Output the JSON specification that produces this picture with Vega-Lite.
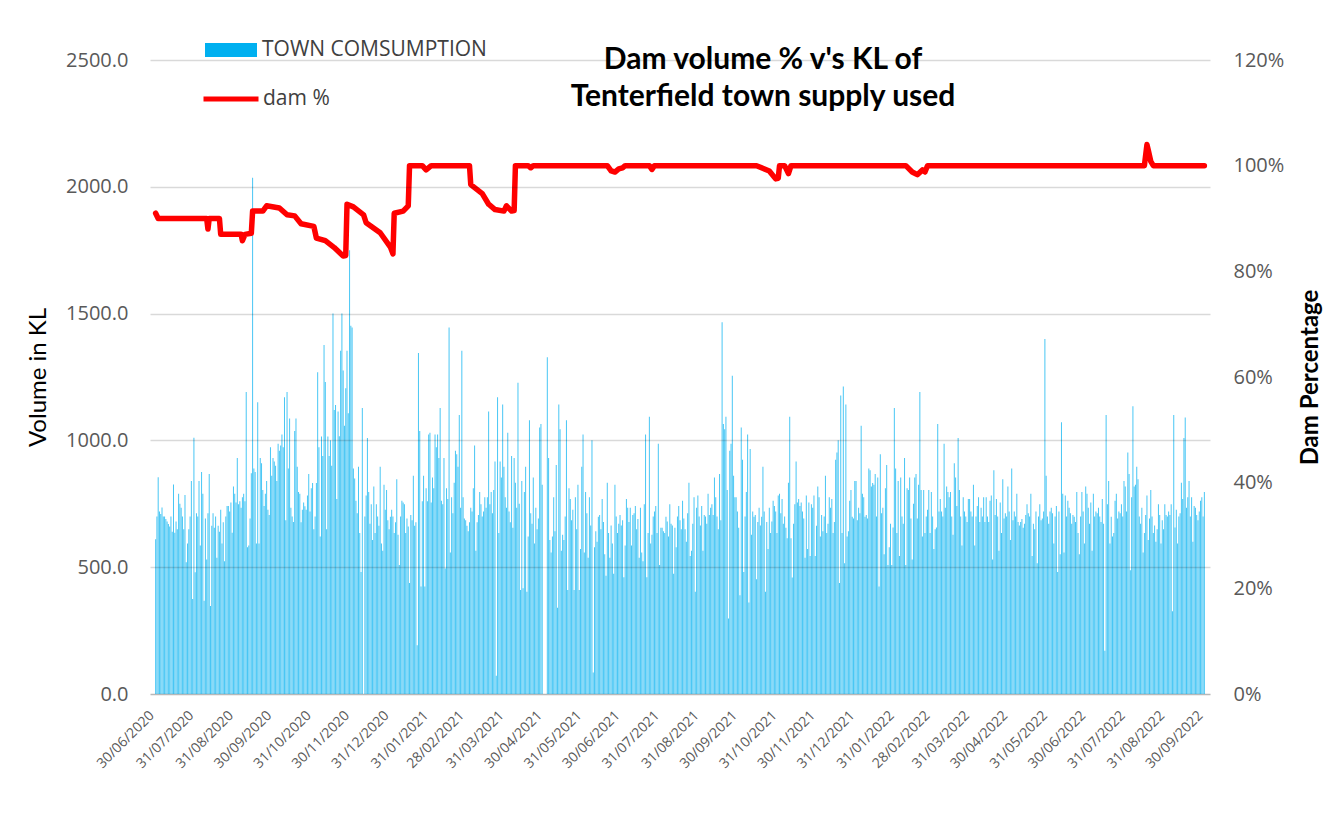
{
"$schema":"https://vega.github.io/schema/vega-lite/v6.json",
"width":1060,"height":634,
"autosize":{"type":"none"},
"padding":{"left":150,"top":60,"right":125,"bottom":146},
"background":"white",
"config":{"view":{"stroke":null},"font":"Open Sans","axisX":{"labelOverlap":false,"tickCount":60}},
"title":{"text":["Dam volume % v's KL of","Tenterfield town supply used"],"font":"Lato","fontSize":30,"fontWeight":"bold","color":"#000000","anchor":"middle","frame":"group","dx":83,"dy":92,"offset":4,"baseline":"top","lineHeight":37},
"datasets":{
"use":[
{"d":"2020-06-30","v":610},
{"d":"2020-07-01","v":700},{"d":"2020-07-02","v":855},{"d":"2020-07-03","v":720},{"d":"2020-07-04","v":710},{"d":"2020-07-05","v":735},{"d":"2020-07-06","v":700},{"d":"2020-07-07","v":700},{"d":"2020-07-08","v":690},{"d":"2020-07-09","v":680},{"d":"2020-07-10","v":670},{"d":"2020-07-11","v":660},{"d":"2020-07-12","v":700},{"d":"2020-07-13","v":640},{"d":"2020-07-14","v":826},{"d":"2020-07-15","v":636},{"d":"2020-07-16","v":680},{"d":"2020-07-17","v":650},{"d":"2020-07-18","v":790},{"d":"2020-07-19","v":750},{"d":"2020-07-20","v":734},{"d":"2020-07-21","v":700},{"d":"2020-07-22","v":650},{"d":"2020-07-23","v":785},{"d":"2020-07-24","v":520},{"d":"2020-07-25","v":593},{"d":"2020-07-26","v":650},{"d":"2020-07-27","v":700},{"d":"2020-07-28","v":840},{"d":"2020-07-29","v":375},{"d":"2020-07-30","v":1010},{"d":"2020-07-31","v":480},
{"d":"2020-08-01","v":713},{"d":"2020-08-02","v":700},{"d":"2020-08-03","v":840},{"d":"2020-08-04","v":586},{"d":"2020-08-05","v":875},{"d":"2020-08-06","v":790},{"d":"2020-08-07","v":368},{"d":"2020-08-08","v":692},{"d":"2020-08-09","v":530},{"d":"2020-08-10","v":713},{"d":"2020-08-11","v":868},{"d":"2020-08-12","v":347},{"d":"2020-08-13","v":663},{"d":"2020-08-14","v":713},{"d":"2020-08-15","v":656},{"d":"2020-08-16","v":700},{"d":"2020-08-17","v":537},{"d":"2020-08-18","v":663},{"d":"2020-08-19","v":640},{"d":"2020-08-20","v":727},{"d":"2020-08-21","v":593},{"d":"2020-08-22","v":677},{"d":"2020-08-23","v":523},{"d":"2020-08-24","v":700},{"d":"2020-08-25","v":741},{"d":"2020-08-26","v":741},{"d":"2020-08-27","v":720},{"d":"2020-08-28","v":755},{"d":"2020-08-29","v":636},{"d":"2020-08-30","v":818},{"d":"2020-08-31","v":790},
{"d":"2020-09-01","v":755},{"d":"2020-09-02","v":931},{"d":"2020-09-03","v":748},{"d":"2020-09-04","v":760},{"d":"2020-09-05","v":734},{"d":"2020-09-06","v":776},{"d":"2020-09-07","v":790},{"d":"2020-09-08","v":760},{"d":"2020-09-09","v":1191},{"d":"2020-09-10","v":579},{"d":"2020-09-11","v":586},{"d":"2020-09-12","v":692},{"d":"2020-09-13","v":870},{"d":"2020-09-14","v":2036},{"d":"2020-09-15","v":889},{"d":"2020-09-16","v":875},{"d":"2020-09-17","v":593},{"d":"2020-09-18","v":1150},{"d":"2020-09-19","v":593},{"d":"2020-09-20","v":931},{"d":"2020-09-21","v":910},{"d":"2020-09-22","v":804},{"d":"2020-09-23","v":741},{"d":"2020-09-24","v":790},{"d":"2020-09-25","v":840},{"d":"2020-09-26","v":727},{"d":"2020-09-27","v":706},{"d":"2020-09-28","v":973},{"d":"2020-09-29","v":861},{"d":"2020-09-30","v":931},
{"d":"2020-10-01","v":917},{"d":"2020-10-02","v":900},{"d":"2020-10-03","v":840},{"d":"2020-10-04","v":987},{"d":"2020-10-05","v":959},{"d":"2020-10-06","v":980},{"d":"2020-10-07","v":1023},{"d":"2020-10-08","v":973},{"d":"2020-10-09","v":1170},{"d":"2020-10-10","v":685},{"d":"2020-10-11","v":1191},{"d":"2020-10-12","v":889},{"d":"2020-10-13","v":1086},{"d":"2020-10-14","v":734},{"d":"2020-10-15","v":700},{"d":"2020-10-16","v":678},{"d":"2020-10-17","v":1037},{"d":"2020-10-18","v":1086},{"d":"2020-10-19","v":896},{"d":"2020-10-20","v":797},{"d":"2020-10-21","v":790},{"d":"2020-10-22","v":677},{"d":"2020-10-23","v":727},{"d":"2020-10-24","v":755},{"d":"2020-10-25","v":740},{"d":"2020-10-26","v":727},{"d":"2020-10-27","v":783},{"d":"2020-10-28","v":868},{"d":"2020-10-29","v":720},{"d":"2020-10-30","v":811},{"d":"2020-10-31","v":832},
{"d":"2020-11-01","v":650},{"d":"2020-11-02","v":700},{"d":"2020-11-03","v":832},{"d":"2020-11-04","v":1269},{"d":"2020-11-05","v":973},{"d":"2020-11-06","v":621},{"d":"2020-11-07","v":1015},{"d":"2020-11-08","v":938},{"d":"2020-11-09","v":1376},{"d":"2020-11-10","v":1230},{"d":"2020-11-11","v":650},{"d":"2020-11-12","v":1015},{"d":"2020-11-13","v":938},{"d":"2020-11-14","v":1001},{"d":"2020-11-15","v":900},{"d":"2020-11-16","v":1500},{"d":"2020-11-17","v":1120},{"d":"2020-11-18","v":1140},{"d":"2020-11-19","v":769},{"d":"2020-11-20","v":1114},{"d":"2020-11-21","v":1016},{"d":"2020-11-22","v":1354},{"d":"2020-11-23","v":1500},{"d":"2020-11-24","v":1276},{"d":"2020-11-25","v":1058},{"d":"2020-11-26","v":1206},{"d":"2020-11-27","v":1354},{"d":"2020-11-28","v":1107},{"d":"2020-11-29","v":1750},{"d":"2020-11-30","v":1452},
{"d":"2020-12-01","v":1445},{"d":"2020-12-02","v":889},{"d":"2020-12-03","v":850},{"d":"2020-12-04","v":762},{"d":"2020-12-05","v":713},{"d":"2020-12-06","v":896},{"d":"2020-12-07","v":635},{"d":"2020-12-08","v":481},{"d":"2020-12-09","v":1128},{"d":"2020-12-10","v":0},{"d":"2020-12-11","v":700},{"d":"2020-12-12","v":783},{"d":"2020-12-13","v":1009},{"d":"2020-12-14","v":797},{"d":"2020-12-15","v":671},{"d":"2020-12-16","v":748},{"d":"2020-12-17","v":607},{"d":"2020-12-18","v":818},{"d":"2020-12-19","v":635},{"d":"2020-12-20","v":748},{"d":"2020-12-21","v":700},{"d":"2020-12-22","v":663},{"d":"2020-12-23","v":896},{"d":"2020-12-24","v":593},{"d":"2020-12-25","v":565},{"d":"2020-12-26","v":825},{"d":"2020-12-27","v":727},{"d":"2020-12-28","v":804},{"d":"2020-12-29","v":685},{"d":"2020-12-30","v":650},{"d":"2020-12-31","v":699},
{"d":"2021-01-01","v":727},{"d":"2021-01-02","v":700},{"d":"2021-01-03","v":635},{"d":"2021-01-04","v":677},{"d":"2021-01-05","v":847},{"d":"2021-01-06","v":628},{"d":"2021-01-07","v":509},{"d":"2021-01-08","v":700},{"d":"2021-01-09","v":762},{"d":"2021-01-10","v":755},{"d":"2021-01-11","v":748},{"d":"2021-01-12","v":635},{"d":"2021-01-13","v":692},{"d":"2021-01-14","v":660},{"d":"2021-01-15","v":438},{"d":"2021-01-16","v":706},{"d":"2021-01-17","v":685},{"d":"2021-01-18","v":861},{"d":"2021-01-19","v":663},{"d":"2021-01-20","v":677},{"d":"2021-01-21","v":192},{"d":"2021-01-22","v":1345},{"d":"2021-01-23","v":1037},{"d":"2021-01-24","v":424},{"d":"2021-01-25","v":760},{"d":"2021-01-26","v":861},{"d":"2021-01-27","v":424},{"d":"2021-01-28","v":811},{"d":"2021-01-29","v":760},{"d":"2021-01-30","v":1023},{"d":"2021-01-31","v":1030},
{"d":"2021-02-01","v":755},{"d":"2021-02-02","v":854},{"d":"2021-02-03","v":811},{"d":"2021-02-04","v":1023},{"d":"2021-02-05","v":973},{"d":"2021-02-06","v":1023},{"d":"2021-02-07","v":931},{"d":"2021-02-08","v":1128},{"d":"2021-02-09","v":762},{"d":"2021-02-10","v":748},{"d":"2021-02-11","v":931},{"d":"2021-02-12","v":495},{"d":"2021-02-13","v":811},{"d":"2021-02-14","v":769},{"d":"2021-02-15","v":1445},{"d":"2021-02-16","v":558},{"d":"2021-02-17","v":776},{"d":"2021-02-18","v":713},{"d":"2021-02-19","v":833},{"d":"2021-02-20","v":959},{"d":"2021-02-21","v":945},{"d":"2021-02-22","v":896},{"d":"2021-02-23","v":1100},{"d":"2021-02-24","v":734},{"d":"2021-02-25","v":1354},{"d":"2021-02-26","v":776},{"d":"2021-02-27","v":692},{"d":"2021-02-28","v":685},
{"d":"2021-03-01","v":663},{"d":"2021-03-02","v":642},{"d":"2021-03-03","v":677},{"d":"2021-03-04","v":734},{"d":"2021-03-05","v":720},{"d":"2021-03-06","v":811},{"d":"2021-03-07","v":980},{"d":"2021-03-08","v":565},{"d":"2021-03-09","v":677},{"d":"2021-03-10","v":706},{"d":"2021-03-11","v":797},{"d":"2021-03-12","v":748},{"d":"2021-03-13","v":700},{"d":"2021-03-14","v":720},{"d":"2021-03-15","v":776},{"d":"2021-03-16","v":734},{"d":"2021-03-17","v":776},{"d":"2021-03-18","v":1114},{"d":"2021-03-19","v":748},{"d":"2021-03-20","v":797},{"d":"2021-03-21","v":713},{"d":"2021-03-22","v":804},{"d":"2021-03-23","v":917},{"d":"2021-03-24","v":72},{"d":"2021-03-25","v":1170},{"d":"2021-03-26","v":635},{"d":"2021-03-27","v":917},{"d":"2021-03-28","v":854},{"d":"2021-03-29","v":1142},{"d":"2021-03-30","v":896},{"d":"2021-03-31","v":776},
{"d":"2021-04-01","v":734},{"d":"2021-04-02","v":1030},{"d":"2021-04-03","v":720},{"d":"2021-04-04","v":677},{"d":"2021-04-05","v":938},{"d":"2021-04-06","v":656},{"d":"2021-04-07","v":931},{"d":"2021-04-08","v":833},{"d":"2021-04-09","v":734},{"d":"2021-04-10","v":1227},{"d":"2021-04-11","v":750},{"d":"2021-04-12","v":410},{"d":"2021-04-13","v":840},{"d":"2021-04-14","v":417},{"d":"2021-04-15","v":797},{"d":"2021-04-16","v":896},{"d":"2021-04-17","v":403},{"d":"2021-04-18","v":621},{"d":"2021-04-19","v":1079},{"d":"2021-04-20","v":713},{"d":"2021-04-21","v":671},{"d":"2021-04-22","v":854},{"d":"2021-04-23","v":593},{"d":"2021-04-24","v":734},{"d":"2021-04-25","v":650},{"d":"2021-04-26","v":692},{"d":"2021-04-27","v":1051},{"d":"2021-04-28","v":1065},{"d":"2021-04-29","v":825},{"d":"2021-04-30","v":0},
{"d":"2021-05-01","v":0},{"d":"2021-05-02","v":0},{"d":"2021-05-03","v":1328},{"d":"2021-05-04","v":931},{"d":"2021-05-05","v":607},{"d":"2021-05-06","v":558},{"d":"2021-05-07","v":621},{"d":"2021-05-08","v":776},{"d":"2021-05-09","v":642},{"d":"2021-05-10","v":903},{"d":"2021-05-11","v":340},{"d":"2021-05-12","v":1142},{"d":"2021-05-13","v":1044},{"d":"2021-05-14","v":565},{"d":"2021-05-15","v":628},{"d":"2021-05-16","v":607},{"d":"2021-05-17","v":700},{"d":"2021-05-18","v":1079},{"d":"2021-05-19","v":410},{"d":"2021-05-20","v":811},{"d":"2021-05-21","v":769},{"d":"2021-05-22","v":685},{"d":"2021-05-23","v":727},{"d":"2021-05-24","v":410},{"d":"2021-05-25","v":776},{"d":"2021-05-26","v":650},{"d":"2021-05-27","v":825},{"d":"2021-05-28","v":410},{"d":"2021-05-29","v":572},{"d":"2021-05-30","v":896},{"d":"2021-05-31","v":1023},
{"d":"2021-06-01","v":558},{"d":"2021-06-02","v":797},{"d":"2021-06-03","v":713},{"d":"2021-06-04","v":537},{"d":"2021-06-05","v":776},{"d":"2021-06-06","v":664},{"d":"2021-06-07","v":1001},{"d":"2021-06-08","v":85},{"d":"2021-06-09","v":579},{"d":"2021-06-10","v":642},{"d":"2021-06-11","v":600},{"d":"2021-06-12","v":699},{"d":"2021-06-13","v":706},{"d":"2021-06-14","v":650},{"d":"2021-06-15","v":769},{"d":"2021-06-16","v":678},{"d":"2021-06-17","v":551},{"d":"2021-06-18","v":466},{"d":"2021-06-19","v":833},{"d":"2021-06-20","v":635},{"d":"2021-06-21","v":537},{"d":"2021-06-22","v":664},{"d":"2021-06-23","v":593},{"d":"2021-06-24","v":474},{"d":"2021-06-25","v":825},{"d":"2021-06-26","v":700},{"d":"2021-06-27","v":635},{"d":"2021-06-28","v":671},{"d":"2021-06-29","v":706},{"d":"2021-06-30","v":664},
{"d":"2021-07-01","v":685},{"d":"2021-07-02","v":460},{"d":"2021-07-03","v":586},{"d":"2021-07-04","v":769},{"d":"2021-07-05","v":734},{"d":"2021-07-06","v":678},{"d":"2021-07-07","v":734},{"d":"2021-07-08","v":586},{"d":"2021-07-09","v":706},{"d":"2021-07-10","v":713},{"d":"2021-07-11","v":741},{"d":"2021-07-12","v":650},{"d":"2021-07-13","v":690},{"d":"2021-07-14","v":537},{"d":"2021-07-15","v":734},{"d":"2021-07-16","v":558},{"d":"2021-07-17","v":523},{"d":"2021-07-18","v":748},{"d":"2021-07-19","v":1023},{"d":"2021-07-20","v":460},{"d":"2021-07-21","v":635},{"d":"2021-07-22","v":1093},{"d":"2021-07-23","v":593},{"d":"2021-07-24","v":628},{"d":"2021-07-25","v":700},{"d":"2021-07-26","v":720},{"d":"2021-07-27","v":741},{"d":"2021-07-28","v":635},{"d":"2021-07-29","v":987},{"d":"2021-07-30","v":509},{"d":"2021-07-31","v":656},
{"d":"2021-08-01","v":656},{"d":"2021-08-02","v":642},{"d":"2021-08-03","v":635},{"d":"2021-08-04","v":699},{"d":"2021-08-05","v":680},{"d":"2021-08-06","v":621},{"d":"2021-08-07","v":748},{"d":"2021-08-08","v":671},{"d":"2021-08-09","v":664},{"d":"2021-08-10","v":474},{"d":"2021-08-11","v":656},{"d":"2021-08-12","v":579},{"d":"2021-08-13","v":700},{"d":"2021-08-14","v":741},{"d":"2021-08-15","v":685},{"d":"2021-08-16","v":650},{"d":"2021-08-17","v":762},{"d":"2021-08-18","v":692},{"d":"2021-08-19","v":650},{"d":"2021-08-20","v":600},{"d":"2021-08-21","v":713},{"d":"2021-08-22","v":833},{"d":"2021-08-23","v":544},{"d":"2021-08-24","v":565},{"d":"2021-08-25","v":671},{"d":"2021-08-26","v":776},{"d":"2021-08-27","v":403},{"d":"2021-08-28","v":734},{"d":"2021-08-29","v":783},{"d":"2021-08-30","v":700},{"d":"2021-08-31","v":664},
{"d":"2021-09-01","v":741},{"d":"2021-09-02","v":565},{"d":"2021-09-03","v":706},{"d":"2021-09-04","v":700},{"d":"2021-09-05","v":671},{"d":"2021-09-06","v":790},{"d":"2021-09-07","v":706},{"d":"2021-09-08","v":734},{"d":"2021-09-09","v":748},{"d":"2021-09-10","v":706},{"d":"2021-09-11","v":854},{"d":"2021-09-12","v":776},{"d":"2021-09-13","v":700},{"d":"2021-09-14","v":650},{"d":"2021-09-15","v":868},{"d":"2021-09-16","v":685},{"d":"2021-09-17","v":1466},{"d":"2021-09-18","v":1065},{"d":"2021-09-19","v":1044},{"d":"2021-09-20","v":1093},{"d":"2021-09-21","v":804},{"d":"2021-09-22","v":298},{"d":"2021-09-23","v":959},{"d":"2021-09-24","v":987},{"d":"2021-09-25","v":1255},{"d":"2021-09-26","v":861},{"d":"2021-09-27","v":776},{"d":"2021-09-28","v":776},{"d":"2021-09-29","v":720},{"d":"2021-09-30","v":656},
{"d":"2021-10-01","v":389},{"d":"2021-10-02","v":1051},{"d":"2021-10-03","v":924},{"d":"2021-10-04","v":481},{"d":"2021-10-05","v":700},{"d":"2021-10-06","v":797},{"d":"2021-10-07","v":1023},{"d":"2021-10-08","v":361},{"d":"2021-10-09","v":966},{"d":"2021-10-10","v":628},{"d":"2021-10-11","v":720},{"d":"2021-10-12","v":699},{"d":"2021-10-13","v":706},{"d":"2021-10-14","v":452},{"d":"2021-10-15","v":678},{"d":"2021-10-16","v":734},{"d":"2021-10-17","v":664},{"d":"2021-10-18","v":699},{"d":"2021-10-19","v":896},{"d":"2021-10-20","v":720},{"d":"2021-10-21","v":403},{"d":"2021-10-22","v":678},{"d":"2021-10-23","v":572},{"d":"2021-10-24","v":734},{"d":"2021-10-25","v":635},{"d":"2021-10-26","v":680},{"d":"2021-10-27","v":762},{"d":"2021-10-28","v":741},{"d":"2021-10-29","v":720},{"d":"2021-10-30","v":635},{"d":"2021-10-31","v":783},
{"d":"2021-11-01","v":790},{"d":"2021-11-02","v":713},{"d":"2021-11-03","v":769},{"d":"2021-11-04","v":671},{"d":"2021-11-05","v":700},{"d":"2021-11-06","v":656},{"d":"2021-11-07","v":614},{"d":"2021-11-08","v":833},{"d":"2021-11-09","v":1093},{"d":"2021-11-10","v":614},{"d":"2021-11-11","v":459},{"d":"2021-11-12","v":671},{"d":"2021-11-13","v":748},{"d":"2021-11-14","v":917},{"d":"2021-11-15","v":755},{"d":"2021-11-16","v":769},{"d":"2021-11-17","v":741},{"d":"2021-11-18","v":755},{"d":"2021-11-19","v":720},{"d":"2021-11-20","v":692},{"d":"2021-11-21","v":537},{"d":"2021-11-22","v":783},{"d":"2021-11-23","v":572},{"d":"2021-11-24","v":755},{"d":"2021-11-25","v":544},{"d":"2021-11-26","v":748},{"d":"2021-11-27","v":734},{"d":"2021-11-28","v":783},{"d":"2021-11-29","v":544},{"d":"2021-11-30","v":663},
{"d":"2021-12-01","v":818},{"d":"2021-12-02","v":776},{"d":"2021-12-03","v":621},{"d":"2021-12-04","v":706},{"d":"2021-12-05","v":642},{"d":"2021-12-06","v":700},{"d":"2021-12-07","v":861},{"d":"2021-12-08","v":635},{"d":"2021-12-09","v":671},{"d":"2021-12-10","v":776},{"d":"2021-12-11","v":734},{"d":"2021-12-12","v":769},{"d":"2021-12-13","v":635},{"d":"2021-12-14","v":678},{"d":"2021-12-15","v":924},{"d":"2021-12-16","v":952},{"d":"2021-12-17","v":1001},{"d":"2021-12-18","v":438},{"d":"2021-12-19","v":1177},{"d":"2021-12-20","v":635},{"d":"2021-12-21","v":1213},{"d":"2021-12-22","v":516},{"d":"2021-12-23","v":1142},{"d":"2021-12-24","v":621},{"d":"2021-12-25","v":642},{"d":"2021-12-26","v":762},{"d":"2021-12-27","v":804},{"d":"2021-12-28","v":699},{"d":"2021-12-29","v":692},{"d":"2021-12-30","v":840},{"d":"2021-12-31","v":840},
{"d":"2022-01-01","v":685},{"d":"2022-01-02","v":734},{"d":"2022-01-03","v":713},{"d":"2022-01-04","v":1058},{"d":"2022-01-05","v":790},{"d":"2022-01-06","v":776},{"d":"2022-01-07","v":699},{"d":"2022-01-08","v":706},{"d":"2022-01-09","v":692},{"d":"2022-01-10","v":889},{"d":"2022-01-11","v":882},{"d":"2022-01-12","v":818},{"d":"2022-01-13","v":832},{"d":"2022-01-14","v":825},{"d":"2022-01-15","v":868},{"d":"2022-01-16","v":700},{"d":"2022-01-17","v":854},{"d":"2022-01-18","v":424},{"d":"2022-01-19","v":945},{"d":"2022-01-20","v":713},{"d":"2022-01-21","v":734},{"d":"2022-01-22","v":551},{"d":"2022-01-23","v":811},{"d":"2022-01-24","v":903},{"d":"2022-01-25","v":509},{"d":"2022-01-26","v":579},{"d":"2022-01-27","v":671},{"d":"2022-01-28","v":509},{"d":"2022-01-29","v":657},{"d":"2022-01-30","v":1128},{"d":"2022-01-31","v":889},
{"d":"2022-02-01","v":635},{"d":"2022-02-02","v":840},{"d":"2022-02-03","v":544},{"d":"2022-02-04","v":854},{"d":"2022-02-05","v":700},{"d":"2022-02-06","v":671},{"d":"2022-02-07","v":931},{"d":"2022-02-08","v":509},{"d":"2022-02-09","v":811},{"d":"2022-02-10","v":804},{"d":"2022-02-11","v":854},{"d":"2022-02-12","v":692},{"d":"2022-02-13","v":530},{"d":"2022-02-14","v":750},{"d":"2022-02-15","v":854},{"d":"2022-02-16","v":868},{"d":"2022-02-17","v":692},{"d":"2022-02-18","v":825},{"d":"2022-02-19","v":1191},{"d":"2022-02-20","v":804},{"d":"2022-02-21","v":621},{"d":"2022-02-22","v":804},{"d":"2022-02-23","v":635},{"d":"2022-02-24","v":700},{"d":"2022-02-25","v":727},{"d":"2022-02-26","v":804},{"d":"2022-02-27","v":635},{"d":"2022-02-28","v":797},
{"d":"2022-03-01","v":700},{"d":"2022-03-02","v":572},{"d":"2022-03-03","v":650},{"d":"2022-03-04","v":657},{"d":"2022-03-05","v":1065},{"d":"2022-03-06","v":720},{"d":"2022-03-07","v":769},{"d":"2022-03-08","v":720},{"d":"2022-03-09","v":700},{"d":"2022-03-10","v":987},{"d":"2022-03-11","v":734},{"d":"2022-03-12","v":818},{"d":"2022-03-13","v":797},{"d":"2022-03-14","v":776},{"d":"2022-03-15","v":797},{"d":"2022-03-16","v":700},{"d":"2022-03-17","v":628},{"d":"2022-03-18","v":910},{"d":"2022-03-19","v":854},{"d":"2022-03-20","v":741},{"d":"2022-03-21","v":1009},{"d":"2022-03-22","v":804},{"d":"2022-03-23","v":700},{"d":"2022-03-24","v":586},{"d":"2022-03-25","v":776},{"d":"2022-03-26","v":720},{"d":"2022-03-27","v":700},{"d":"2022-03-28","v":678},{"d":"2022-03-29","v":769},{"d":"2022-03-30","v":769},{"d":"2022-03-31","v":720},
{"d":"2022-04-01","v":700},{"d":"2022-04-02","v":825},{"d":"2022-04-03","v":586},{"d":"2022-04-04","v":700},{"d":"2022-04-05","v":741},{"d":"2022-04-06","v":776},{"d":"2022-04-07","v":678},{"d":"2022-04-08","v":734},{"d":"2022-04-09","v":700},{"d":"2022-04-10","v":776},{"d":"2022-04-11","v":678},{"d":"2022-04-12","v":776},{"d":"2022-04-13","v":700},{"d":"2022-04-14","v":678},{"d":"2022-04-15","v":762},{"d":"2022-04-16","v":783},{"d":"2022-04-17","v":530},{"d":"2022-04-18","v":882},{"d":"2022-04-19","v":706},{"d":"2022-04-20","v":769},{"d":"2022-04-21","v":700},{"d":"2022-04-22","v":565},{"d":"2022-04-23","v":755},{"d":"2022-04-24","v":635},{"d":"2022-04-25","v":847},{"d":"2022-04-26","v":692},{"d":"2022-04-27","v":713},{"d":"2022-04-28","v":700},{"d":"2022-04-29","v":818},{"d":"2022-04-30","v":720},
{"d":"2022-05-01","v":607},{"d":"2022-05-02","v":889},{"d":"2022-05-03","v":685},{"d":"2022-05-04","v":720},{"d":"2022-05-05","v":700},{"d":"2022-05-06","v":790},{"d":"2022-05-07","v":678},{"d":"2022-05-08","v":664},{"d":"2022-05-09","v":678},{"d":"2022-05-10","v":690},{"d":"2022-05-11","v":656},{"d":"2022-05-12","v":671},{"d":"2022-05-13","v":706},{"d":"2022-05-14","v":748},{"d":"2022-05-15","v":713},{"d":"2022-05-16","v":700},{"d":"2022-05-17","v":790},{"d":"2022-05-18","v":544},{"d":"2022-05-19","v":671},{"d":"2022-05-20","v":650},{"d":"2022-05-21","v":720},{"d":"2022-05-22","v":516},{"d":"2022-05-23","v":700},{"d":"2022-05-24","v":748},{"d":"2022-05-25","v":685},{"d":"2022-05-26","v":692},{"d":"2022-05-27","v":720},{"d":"2022-05-28","v":1400},{"d":"2022-05-29","v":861},{"d":"2022-05-30","v":700},{"d":"2022-05-31","v":671},
{"d":"2022-06-01","v":720},{"d":"2022-06-02","v":734},{"d":"2022-06-03","v":713},{"d":"2022-06-04","v":593},{"d":"2022-06-05","v":700},{"d":"2022-06-06","v":741},{"d":"2022-06-07","v":481},{"d":"2022-06-08","v":720},{"d":"2022-06-09","v":551},{"d":"2022-06-10","v":1072},{"d":"2022-06-11","v":790},{"d":"2022-06-12","v":558},{"d":"2022-06-13","v":783},{"d":"2022-06-14","v":700},{"d":"2022-06-15","v":762},{"d":"2022-06-16","v":734},{"d":"2022-06-17","v":713},{"d":"2022-06-18","v":671},{"d":"2022-06-19","v":706},{"d":"2022-06-20","v":699},{"d":"2022-06-21","v":678},{"d":"2022-06-22","v":797},{"d":"2022-06-23","v":635},{"d":"2022-06-24","v":551},{"d":"2022-06-25","v":700},{"d":"2022-06-26","v":797},{"d":"2022-06-27","v":720},{"d":"2022-06-28","v":593},{"d":"2022-06-29","v":818},{"d":"2022-06-30","v":790},
{"d":"2022-07-01","v":734},{"d":"2022-07-02","v":671},{"d":"2022-07-03","v":755},{"d":"2022-07-04","v":565},{"d":"2022-07-05","v":790},{"d":"2022-07-06","v":700},{"d":"2022-07-07","v":720},{"d":"2022-07-08","v":713},{"d":"2022-07-09","v":734},{"d":"2022-07-10","v":700},{"d":"2022-07-11","v":678},{"d":"2022-07-12","v":769},{"d":"2022-07-13","v":671},{"d":"2022-07-14","v":171},{"d":"2022-07-15","v":1100},{"d":"2022-07-16","v":748},{"d":"2022-07-17","v":840},{"d":"2022-07-18","v":593},{"d":"2022-07-19","v":699},{"d":"2022-07-20","v":621},{"d":"2022-07-21","v":635},{"d":"2022-07-22","v":762},{"d":"2022-07-23","v":790},{"d":"2022-07-24","v":692},{"d":"2022-07-25","v":720},{"d":"2022-07-26","v":713},{"d":"2022-07-27","v":748},{"d":"2022-07-28","v":700},{"d":"2022-07-29","v":840},{"d":"2022-07-30","v":818},{"d":"2022-07-31","v":720},
{"d":"2022-08-01","v":952},{"d":"2022-08-02","v":868},{"d":"2022-08-03","v":488},{"d":"2022-08-04","v":776},{"d":"2022-08-05","v":1135},{"d":"2022-08-06","v":818},{"d":"2022-08-07","v":825},{"d":"2022-08-08","v":896},{"d":"2022-08-09","v":847},{"d":"2022-08-10","v":700},{"d":"2022-08-11","v":671},{"d":"2022-08-12","v":734},{"d":"2022-08-13","v":558},{"d":"2022-08-14","v":635},{"d":"2022-08-15","v":706},{"d":"2022-08-16","v":783},{"d":"2022-08-17","v":607},{"d":"2022-08-18","v":692},{"d":"2022-08-19","v":804},{"d":"2022-08-20","v":700},{"d":"2022-08-21","v":635},{"d":"2022-08-22","v":664},{"d":"2022-08-23","v":600},{"d":"2022-08-24","v":650},{"d":"2022-08-25","v":748},{"d":"2022-08-26","v":706},{"d":"2022-08-27","v":593},{"d":"2022-08-28","v":685},{"d":"2022-08-29","v":650},{"d":"2022-08-30","v":748},{"d":"2022-08-31","v":706},
{"d":"2022-09-01","v":700},{"d":"2022-09-02","v":720},{"d":"2022-09-03","v":706},{"d":"2022-09-04","v":748},{"d":"2022-09-05","v":326},{"d":"2022-09-06","v":1100},{"d":"2022-09-07","v":657},{"d":"2022-09-08","v":727},{"d":"2022-09-09","v":593},{"d":"2022-09-10","v":700},{"d":"2022-09-11","v":713},{"d":"2022-09-12","v":833},{"d":"2022-09-13","v":769},{"d":"2022-09-14","v":1009},{"d":"2022-09-15","v":1090},{"d":"2022-09-16","v":734},{"d":"2022-09-17","v":776},{"d":"2022-09-18","v":840},{"d":"2022-09-19","v":700},{"d":"2022-09-20","v":776},{"d":"2022-09-21","v":600},{"d":"2022-09-22","v":741},{"d":"2022-09-23","v":734},{"d":"2022-09-24","v":706},{"d":"2022-09-25","v":685},{"d":"2022-09-26","v":720},{"d":"2022-09-27","v":762},{"d":"2022-09-28","v":776},{"d":"2022-09-29","v":700},{"d":"2022-09-30","v":797}
],
"dam":[
{"d":"2020-06-30","p":91.0},{"d":"2020-07-02","p":90.0},{"d":"2020-08-09","p":90.0},{"d":"2020-08-10","p":88.0},{"d":"2020-08-11","p":90.0},{"d":"2020-08-19","p":90.0},{"d":"2020-08-20","p":87.0},{"d":"2020-09-05","p":87.0},{"d":"2020-09-06","p":85.8},{"d":"2020-09-08","p":87.0},{"d":"2020-09-13","p":87.2},{"d":"2020-09-14","p":91.4},{"d":"2020-09-22","p":91.4},{"d":"2020-09-25","p":92.4},{"d":"2020-10-05","p":92.0},{"d":"2020-10-11","p":90.7},{"d":"2020-10-17","p":90.5},{"d":"2020-10-22","p":89.0},{"d":"2020-11-01","p":88.5},{"d":"2020-11-03","p":86.3},{"d":"2020-11-10","p":85.8},{"d":"2020-11-17","p":84.5},{"d":"2020-11-24","p":82.9},{"d":"2020-11-26","p":83.0},{"d":"2020-11-27","p":92.7},{"d":"2020-12-02","p":92.2},{"d":"2020-12-10","p":90.7},{"d":"2020-12-12","p":89.2},{"d":"2020-12-23","p":87.3},{"d":"2020-12-31","p":84.6},{"d":"2021-01-02","p":83.3},{"d":"2021-01-03","p":91.0},{"d":"2021-01-10","p":91.4},{"d":"2021-01-14","p":92.4},{"d":"2021-01-15","p":100.0},{"d":"2021-01-25","p":100.0},{"d":"2021-01-28","p":99.2},{"d":"2021-02-01","p":100.0},{"d":"2021-03-03","p":100.0},{"d":"2021-03-04","p":96.4},{"d":"2021-03-13","p":94.7},{"d":"2021-03-18","p":92.7},{"d":"2021-03-23","p":91.7},{"d":"2021-03-30","p":91.4},{"d":"2021-04-01","p":92.4},{"d":"2021-04-05","p":91.4},{"d":"2021-04-07","p":91.5},{"d":"2021-04-08","p":100.0},{"d":"2021-04-18","p":100.0},{"d":"2021-04-20","p":99.6},{"d":"2021-04-22","p":100.0},{"d":"2021-06-19","p":100.0},{"d":"2021-06-22","p":99.0},{"d":"2021-06-25","p":98.8},{"d":"2021-06-28","p":99.4},{"d":"2021-07-01","p":99.6},{"d":"2021-07-03","p":100.0},{"d":"2021-07-22","p":100.0},{"d":"2021-07-24","p":99.3},{"d":"2021-07-26","p":100.0},{"d":"2021-10-14","p":100.0},{"d":"2021-10-24","p":99.0},{"d":"2021-10-29","p":97.5},{"d":"2021-10-31","p":97.6},{"d":"2021-11-01","p":100.0},{"d":"2021-11-05","p":100.0},{"d":"2021-11-08","p":98.5},{"d":"2021-11-10","p":100.0},{"d":"2022-02-08","p":100.0},{"d":"2022-02-13","p":98.8},{"d":"2022-02-17","p":98.3},{"d":"2022-02-21","p":99.2},{"d":"2022-02-23","p":98.8},{"d":"2022-02-25","p":100.0},{"d":"2022-08-14","p":100.0},{"d":"2022-08-16","p":104.0},{"d":"2022-08-17","p":103.0},{"d":"2022-08-19","p":100.8},{"d":"2022-08-21","p":100.0},{"d":"2022-09-30","p":100.0}
]
},
"layer":[
{"data":{"name":"use"},
 "mark":{"type":"bar","width":1,"fillOpacity":0.72},
 "encoding":{
  "x":{"field":"d","type":"temporal",
   "scale":{"type":"utc","domain":[{"year":2020,"month":6,"date":29,"hours":12,"utc":true},{"year":2022,"month":9,"date":30,"hours":12,"utc":true}]},
   "axis":{"title":null,"format":"%d/%m/%Y","labelAngle":-45,"labelAlign":"right","labelBaseline":"middle","labelFontSize":14,"labelColor":"#595959","labelPadding":19,"labelOffset":-4,"labelOverlap":false,"labelFlush":false,"labelBound":false,"tickCount":60,"ticks":false,"tickSize":0,"grid":false,"domainColor":"#d9d9d9","domainWidth":1.5,
    "values":[
     {"year":2020,"month":6,"date":30,"utc":true},{"year":2020,"month":7,"date":31,"utc":true},{"year":2020,"month":8,"date":31,"utc":true},{"year":2020,"month":9,"date":30,"utc":true},{"year":2020,"month":10,"date":31,"utc":true},{"year":2020,"month":11,"date":30,"utc":true},{"year":2020,"month":12,"date":31,"utc":true},
     {"year":2021,"month":1,"date":31,"utc":true},{"year":2021,"month":2,"date":28,"utc":true},{"year":2021,"month":3,"date":31,"utc":true},{"year":2021,"month":4,"date":30,"utc":true},{"year":2021,"month":5,"date":31,"utc":true},{"year":2021,"month":6,"date":30,"utc":true},{"year":2021,"month":7,"date":31,"utc":true},{"year":2021,"month":8,"date":31,"utc":true},{"year":2021,"month":9,"date":30,"utc":true},{"year":2021,"month":10,"date":31,"utc":true},{"year":2021,"month":11,"date":30,"utc":true},{"year":2021,"month":12,"date":31,"utc":true},
     {"year":2022,"month":1,"date":31,"utc":true},{"year":2022,"month":2,"date":28,"utc":true},{"year":2022,"month":3,"date":31,"utc":true},{"year":2022,"month":4,"date":30,"utc":true},{"year":2022,"month":5,"date":31,"utc":true},{"year":2022,"month":6,"date":30,"utc":true},{"year":2022,"month":7,"date":31,"utc":true},{"year":2022,"month":8,"date":31,"utc":true},{"year":2022,"month":9,"date":30,"utc":true}]}},
  "y":{"field":"v","type":"quantitative","scale":{"domain":[0,2500],"nice":false},
   "axis":{"title":"Volume in KL","values":[0,500,1000,1500,2000,2500],"format":".1f","grid":true,"gridColor":"#000000","gridOpacity":0.15,"gridWidth":1.5,"domain":false,"ticks":false,"tickSize":0,"labelPadding":22,"labelFont":"Open Sans","labelFontSize":20,"labelColor":"#595959","titleFont":"Lato","titleFontSize":24,"titleFontWeight":"normal","titleColor":"#000000","titleX":-112,"titleY":317,"titleAngle":-90,"titleAlign":"center","titleBaseline":"middle","zindex":1}},
  "fill":{"datum":"TOWN COMSUMPTION","type":"nominal","scale":{"range":["#00B0F0"]},
   "legend":{"orient":"none","legendX":55,"legendY":-36,"title":null,"padding":0,"symbolType":"M-1,-0.27H1V0.27H-1Z","symbolSize":2704,"symbolStrokeWidth":0,"symbolOpacity":1,"symbolFillColor":"#00B0F0","labelFont":"Open Sans","labelFontSize":21,"labelColor":"#404040","labelOffset":5,"labelLimit":400}}
 }},
{"data":{"name":"dam"},
 "mark":{"type":"line","strokeWidth":5.5,"strokeJoin":"round","strokeCap":"round"},
 "encoding":{
  "x":{"field":"d","type":"temporal","axis":{"labelOverlap":false,"tickCount":60}},
  "y":{"field":"p","type":"quantitative","scale":{"domain":[0,120],"nice":false},
   "axis":{"orient":"right","values":[0,20,40,60,80,100,120],"labelExpr":"datum.value + '%'","grid":false,"domain":false,"ticks":false,"tickSize":0,"labelPadding":23,"labelFont":"Open Sans","labelFontSize":20,"labelColor":"#595959","title":"Dam Percentage","titleFont":"Lato","titleFontSize":24,"titleFontWeight":"bold","titleColor":"#000000","titleX":100,"titleY":317,"titleAngle":-90,"titleAlign":"center","titleBaseline":"middle"}},
  "stroke":{"datum":"dam %","type":"nominal","scale":{"range":["#FF0000"]},
   "legend":{"orient":"none","legendX":51,"legendY":9,"title":null,"padding":0,"symbolType":"stroke","symbolSize":3025,"symbolStrokeWidth":5,"labelFont":"Open Sans","labelFontSize":21,"labelColor":"#404040","labelOffset":2,"labelLimit":400}}
 }}
],
"resolve":{"scale":{"y":"independent"}}
}
